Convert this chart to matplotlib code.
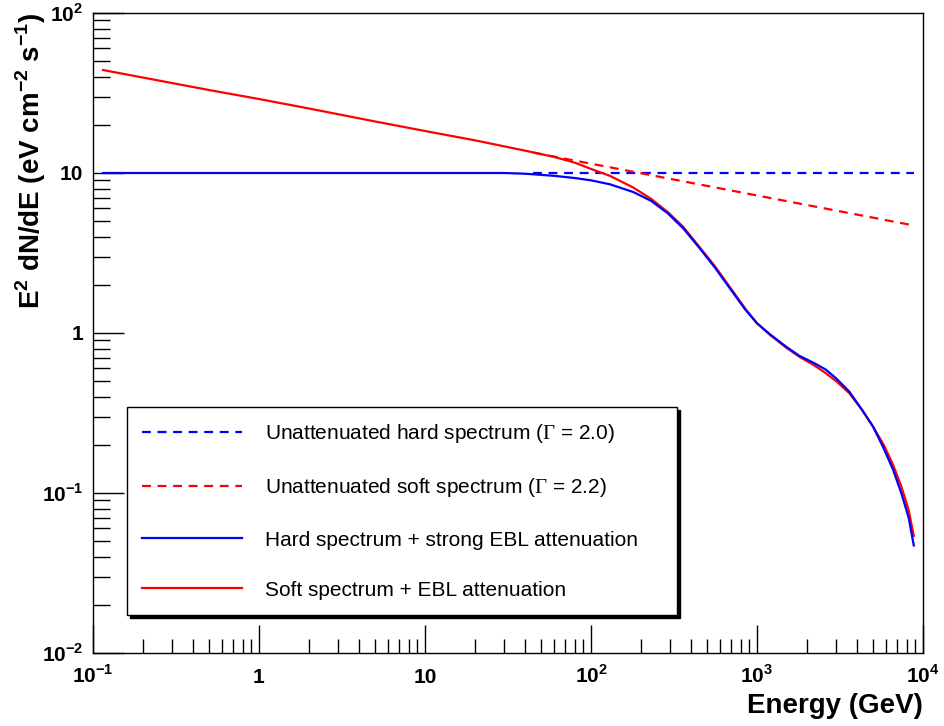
import matplotlib
matplotlib.use("Agg")
import matplotlib.pyplot as plt
from matplotlib.ticker import FixedLocator, LogLocator, NullFormatter

plt.rcParams["font.family"] = ["Liberation Sans", "DejaVu Sans"]
plt.rcParams["mathtext.fontset"] = "custom"
plt.rcParams["mathtext.rm"] = "Liberation Serif"
plt.rcParams["mathtext.bf"] = "Liberation Sans:bold"

# Energies (GeV) and E^2 dN/dE (eV cm^-2 s^-1) values
hard_ebl_E = [0.115, 1, 10, 30, 40, 60, 80, 100, 130, 180, 230, 290, 360, 450,
              560, 700, 850, 1000, 1200, 1500, 1800, 2200, 2600, 3000, 3600,
              4300, 5000, 5800, 6600, 7400, 8200, 8800]
hard_ebl_F = [10, 10, 10, 10, 9.9, 9.6, 9.3, 9.0, 8.5, 7.6, 6.7, 5.6, 4.5, 3.4,
              2.55, 1.85, 1.4, 1.15, 0.98, 0.82, 0.72, 0.65, 0.59, 0.52, 0.43,
              0.33, 0.26, 0.19, 0.14, 0.10, 0.07, 0.047]

soft_ebl_E = [0.115, 0.2, 0.5, 1, 2, 5, 10, 20, 40, 60, 80, 100, 130, 180, 230,
              290, 360, 450, 560, 700, 850, 1000, 1200, 1500, 1800, 2200, 2600,
              3000, 3600, 4300, 5000, 5800, 6600, 7400, 8200, 8800]
soft_ebl_F = [44, 39.5, 33, 29, 25.3, 21, 18.3, 16, 13.8, 12.6, 11.6, 10.6, 9.6,
              8.1, 6.9, 5.7, 4.6, 3.45, 2.6, 1.88, 1.42, 1.15, 0.97, 0.81, 0.71,
              0.63, 0.56, 0.50, 0.42, 0.33, 0.26, 0.20, 0.15, 0.11, 0.078, 0.054]

hard_E = [45, 8800]
hard_F = [10, 10]
soft_E = [45, 8800]
soft_F = [13.4, 4.7]

labels = ["Unattenuated hard spectrum ($\\Gamma$ = 2.0)",
          "Unattenuated soft spectrum ($\\Gamma$ = 2.2)",
          "Hard spectrum + strong EBL attenuation",
          "Soft spectrum + EBL attenuation"]

xticks = [0.1, 1, 10, 100, 1000, 10000]
xticklabels = ["10$^{\\mathbf{-1}}$", "1", "10", "10$^{\\mathbf{2}}$",
               "10$^{\\mathbf{3}}$", "10$^{\\mathbf{4}}$"]
yticks = [0.01, 0.1, 1, 10, 100]
yticklabels = ["10$^{\\mathbf{-2}}$", "10$^{\\mathbf{-1}}$", "1", "10",
               "10$^{\\mathbf{2}}$"]

fig = plt.figure(figsize=(9.44, 7.26), dpi=100)
ax = fig.add_axes([93 / 944, 73 / 726, 830 / 944, 640 / 726])

lw = 1.6
dash = (4, 3)
ax.plot(hard_E, hard_F, color="#0000ff", lw=lw, dashes=dash, label=labels[0])
ax.plot(soft_E, soft_F, color="#ff0000", lw=lw, dashes=dash, label=labels[1])
ax.plot(soft_ebl_E, soft_ebl_F, color="#ff0000", lw=lw, zorder=3)
ax.plot(hard_ebl_E, hard_ebl_F, color="#0000ff", lw=lw, label=labels[2], zorder=4)
# legend handle for the red solid curve
ax.plot([], [], color="#ff0000", lw=lw, label=labels[3])

ax.set_xscale("log")
ax.set_yscale("log")
ax.set_xlim(0.1, 10000)
ax.set_ylim(0.01, 100)

ax.xaxis.set_major_locator(FixedLocator(xticks))
ax.yaxis.set_major_locator(FixedLocator(yticks))
ax.xaxis.set_minor_locator(LogLocator(base=10, subs=range(2, 10), numticks=20))
ax.yaxis.set_minor_locator(LogLocator(base=10, subs=range(2, 10), numticks=20))
ax.xaxis.set_minor_formatter(NullFormatter())
ax.yaxis.set_minor_formatter(NullFormatter())
ax.set_xticklabels(xticklabels, fontsize=15, fontweight="bold")
ax.set_yticklabels(yticklabels, fontsize=15, fontweight="bold")
for lab in ax.get_xticklabels():
    lab.set_va("baseline")

ax.tick_params(axis="x", which="major", direction="in", length=20, width=1,
               pad=21.5, top=False)
ax.tick_params(axis="x", which="minor", direction="in", length=10, width=1,
               top=False)
ax.tick_params(axis="y", which="major", direction="in", length=22, width=1,
               pad=7, right=False)
ax.tick_params(axis="y", which="minor", direction="in", length=12, width=1,
               right=False)
for s in ax.spines.values():
    s.set_linewidth(1)

fig.text(923 / 944, 1 - 713 / 726, "Energy (GeV)", fontsize=20,
         fontweight="bold", ha="right", va="baseline")
fig.text(31 / 944, 1 - 13 / 726,
         "E$^{\\mathbf{2}}$ dN/dE (eV cm$^{\\mathbf{-2}}$ s$^{\\mathbf{-1}}$)",
         fontsize=20, fontweight="bold", rotation=90, ha="center", va="top")

handles, labs = ax.get_legend_handles_labels()
leg = ax.legend(handles, labs, loc="upper left", mode="expand",
                bbox_to_anchor=((127 - 93) / 830, (653 - 407) / 640,
                                (677 - 127) / 830, 0),
                fontsize=15, frameon=True, fancybox=False, edgecolor="black",
                framealpha=1, borderpad=0.72, labelspacing=1.5,
                handlelength=4.8, handletextpad=1.1, borderaxespad=0,
                shadow={"color": "black", "alpha": 1})
leg.get_frame().set_linewidth(1)

fig.savefig("out.png", dpi=100)
